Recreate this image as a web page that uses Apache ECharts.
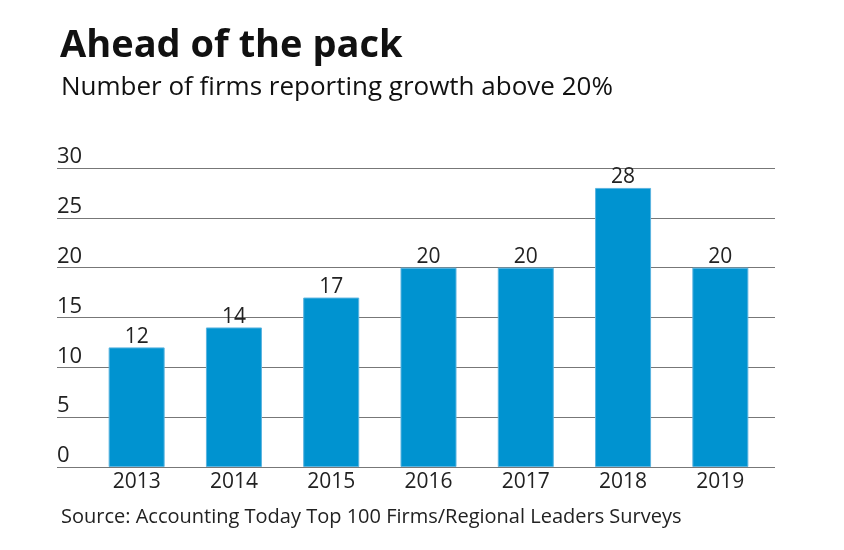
<!DOCTYPE html>
<html>
<head>
<meta charset="utf-8">
<script src="https://cdn.jsdelivr.net/npm/echarts@6/dist/echarts.min.js"></script>
<style>
  html, body { margin: 0; padding: 0; background: #fff; }
  #chart { width: 844px; height: 550px; }
</style>
</head>
<body>
<div id="chart"></div>
<script>
// data
const years = ['2013', '2014', '2015', '2016', '2017', '2018', '2019'];
const firms = [12, 14, 17, 20, 20, 28, 20];
const yTicks = [0, 5, 10, 15, 20, 25, 30];

const font = 'Open Sans';
const chart = echarts.init(document.getElementById('chart'));

chart.setOption({
  animation: false,
  textStyle: { fontFamily: font },
  title: [
    {
      text: 'Ahead of the pack',
      left: 55, top: 22,
      textStyle: { fontFamily: font, fontSize: 38, fontWeight: 'bold', color: '#111' }
    },
    {
      text: 'Number of firms reporting growth above 20%',
      left: 56, top: 70,
      textStyle: { fontFamily: font, fontSize: 26, fontWeight: 'normal', color: '#111' }
    },
    {
      text: 'Source: Accounting Today Top 100 Firms/Regional Leaders Surveys',
      left: 56, top: 502,
      textStyle: { fontFamily: font, fontSize: 20, fontWeight: 'normal', color: '#222' }
    }
  ],
  grid: [
    // full-width grid for the gridlines and y labels
    { left: 57, right: 69, top: 168, bottom: 83 },
    // narrower grid for the bars
    { left: 88, right: 75, top: 168, bottom: 83 }
  ],
  xAxis: [
    { gridIndex: 0, type: 'category', data: years, show: false },
    {
      gridIndex: 1,
      type: 'category',
      data: years,
      axisLine: { show: false },
      axisTick: { show: false },
      axisLabel: { color: '#222', fontSize: 21, margin: 5, fontFamily: font }
    }
  ],
  yAxis: [
    {
      gridIndex: 0,
      type: 'value',
      min: yTicks[0],
      max: yTicks[yTicks.length - 1],
      interval: 5,
      axisLine: { show: false },
      axisTick: { show: false },
      splitLine: { lineStyle: { color: '#777', width: 1 } },
      axisLabel: {
        inside: true,
        margin: 0,
        verticalAlign: 'bottom',
        padding: [0, 0, 0, 0],
        color: '#222',
        fontSize: 22,
        fontFamily: font
      }
    },
    {
      gridIndex: 1,
      type: 'value',
      min: yTicks[0],
      max: yTicks[yTicks.length - 1],
      interval: 5,
      show: false,
      splitLine: { show: false }
    }
  ],
  series: [
    {
      type: 'bar',
      xAxisIndex: 1,
      yAxisIndex: 1,
      data: firms,
      barWidth: 56,
      itemStyle: { color: '#0093d0', borderColor: '#5ab4e0', borderWidth: 1 },
      label: {
        show: true,
        position: 'top',
        distance: 0,
        color: '#222',
        fontSize: 21,
        fontFamily: font
      }
    }
  ]
});
</script>
</body>
</html>
